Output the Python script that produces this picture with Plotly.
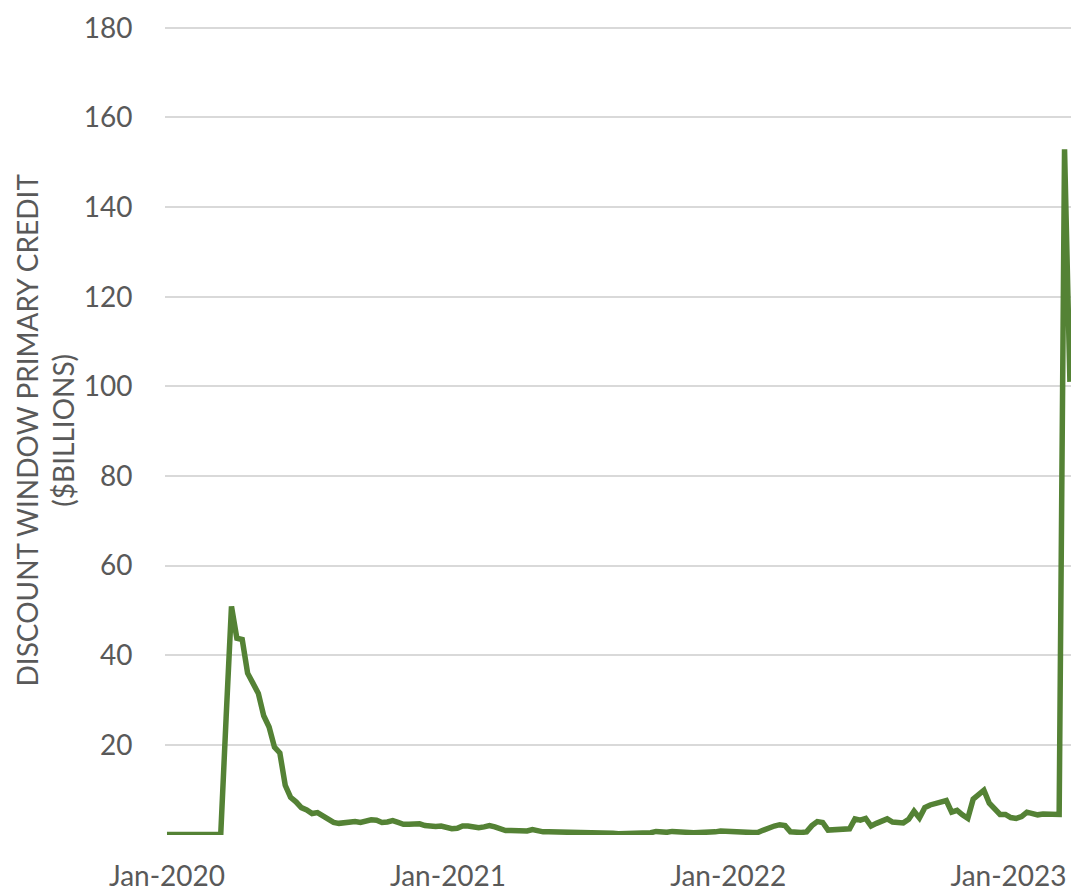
import pandas as pd
import plotly.graph_objects as go

# Weekly observations (Wednesdays) starting 2020-01-01
start_date = "2020-01-01"
credit_billions = [
    0, 0, 0, 0, 0, 0, 0, 0, 0, 0, 0,          # w0-w10 (Jan 1 - Mar 11, 2020)
    26.0, 50.9, 43.8, 43.5, 36.0, 33.5, 31.5, 26.5, 24.0, 19.5,  # w11-w20
    18.2, 11.0, 8.3, 7.3, 6.0, 5.5, 4.7, 4.9, 4.2, 3.2,        # w21-w30
    2.7, 2.5, 2.7, 2.6, 2.9, 2.7, 3.0, 3.3, 3.2, 2.7,          # w31-w40
    2.8, 3.1, 2.7, 2.3, 2.3, 2.3, 2.4, 2.0, 1.8, 1.8,          # w41-w50
    1.9, 1.6, 1.3, 1.4, 1.9, 1.9, 1.6, 1.5, 1.7, 2.0,          # w51-w60
    1.7, 1.3, 0.9, 0.9, 0.8, 0.75, 0.8, 1.1, 0.8, 0.6,         # w61-w70
    0.6, 0.6, 0.6, 0.6, 0.5, 0.5, 0.5, 0.5, 0.4, 0.4,          # w71-w80
    0.6, 0.4, 0.3, 0.2, 0.2, 0.2, 0.2, 0.2, 0.2, 0.4,          # w81-w90
    0.7, 0.5, 0.5, 0.7, 0.6, 0.4, 0.4, 0.4, 0.45, 0.45,        # w91-w100
    0.5, 0.6, 0.8, 0.7, 0.5, 0.45, 0.45, 0.5, 0.45, 0.5,       # w101-w110
    1.0, 1.6, 1.9, 2.2, 2.0, 0.6, 0.4, 0.45, 0.6, 2.0,         # w111-w120
    2.9, 2.7, 1.0, 1.0, 1.0, 1.0, 1.3, 3.5, 3.2, 3.6,          # w121-w130
    1.9, 2.5, 2.9, 3.5, 2.8, 2.8, 2.6, 3.4, 5.2, 3.7,          # w131-w140
    6.0, 6.6, 6.9, 7.3, 7.6, 5.0, 5.4, 4.4, 3.6, 7.9,          # w141-w150
    9.0, 9.9, 7.0, 5.9, 4.5, 4.5, 3.8, 3.6, 4.0, 5.0,          # w151-w160
    4.6, 4.4, 4.6, 4.5, 4.4, 4.5, 152.9, 101.0,                # w161-w168
]
dates = pd.date_range(start_date, periods=len(credit_billions), freq="7D")

x_tick_vals = ["2020-01-01", "2021-01-01", "2022-01-01", "2023-01-01"]
x_tick_text = ["Jan-2020", "Jan-2021", "Jan-2022", "Jan-2023"]
y_tick_vals = [0, 20, 40, 60, 80, 100, 120, 140, 160, 180]
y_tick_text = ["", "20", "40", "60", "80", "100", "120", "140", "160", "180"]
y_title = "DISCOUNT WINDOW PRIMARY CREDIT<br>($BILLIONS)"

GREEN = "#548235"
GRAY_TEXT = "#595959"
GRID = "#d9d9d9"
FONT = "Lato, 'Open Sans', sans-serif"

fig = go.Figure()
fig.add_trace(go.Scatter(
    x=dates, y=credit_billions, mode="lines",
    line=dict(color=GREEN, width=5.5, shape="linear"),
    hoverinfo="skip", showlegend=False,
))

fig.update_layout(
    width=1071, height=892,
    margin=dict(l=165, r=0, t=26, b=55),
    paper_bgcolor="white", plot_bgcolor="white",
    font=dict(family=FONT, color=GRAY_TEXT, size=28),
    xaxis=dict(
        range=["2019-12-29 10:00", "2023-03-23 10:00"],
        tickvals=x_tick_vals, ticktext=x_tick_text,
        showgrid=False, zeroline=False, showline=False,
        ticks="outside", ticklen=16, tickcolor="rgba(0,0,0,0)",
        tickfont=dict(family=FONT, size=28, color=GRAY_TEXT),
    ),
    yaxis=dict(
        range=[-0.1, 180.4],
        tickvals=y_tick_vals, ticktext=y_tick_text,
        showgrid=True, gridcolor=GRID, gridwidth=1.5,
        zeroline=False, showline=False,
        ticks="outside", ticklen=26, tickcolor="rgba(0,0,0,0)",
        tickfont=dict(family=FONT, size=28, color=GRAY_TEXT),
    ),
    annotations=[dict(
        text=y_title, xref="paper", yref="paper",
        x=(44 - 165) / 906, y=0.5, xanchor="center", yanchor="middle",
        textangle=-90, showarrow=False,
        font=dict(family=FONT, size=28, color=GRAY_TEXT),
    )],
)

fig.write_html("out.html")
